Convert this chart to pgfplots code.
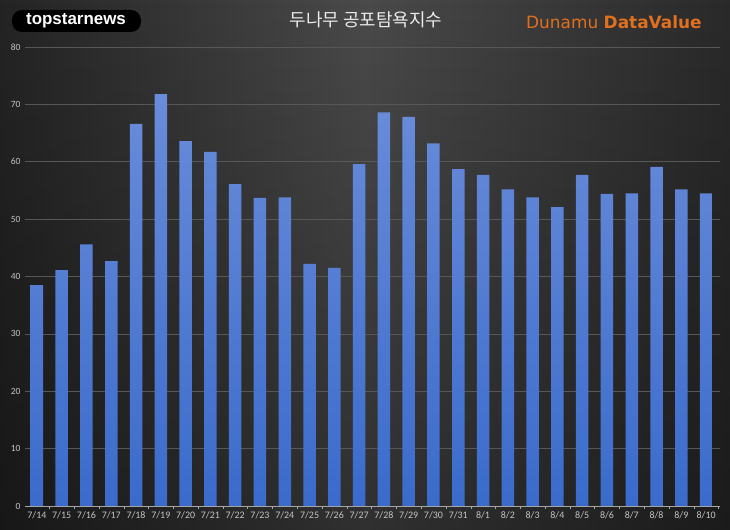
\documentclass[border=0pt]{standalone}
\usepackage{pgfplots}
\pgfplotsset{compat=1.18}
\usetikzlibrary{fadings}
\usepackage{fontspec}
\setmainfont{Carlito}
\newfontfamily\kr{Noto Sans CJK KR}
\newfontfamily\logo{Liberation Sans}
\newfontfamily\dnm{DejaVu Sans}
\definecolor{bgdark}{HTML}{242424}
\definecolor{bgmid}{HTML}{4A4A4A}
\definecolor{bartop}{HTML}{6A8CDA}
\definecolor{barbot}{HTML}{3A6BCB}
\definecolor{ticktxt}{HTML}{C4C4C4}
\definecolor{gridc}{HTML}{575757}
\definecolor{dorange}{HTML}{E0701E}
\begin{document}
\begin{tikzpicture}[x=1bp,y=1bp]
\path[use as bounding box] (0,0) rectangle (730,530);
\shade[left color=bgdark, right color=bgdark!85!bgmid, middle color=bgmid] (0,0) rectangle (730,530);
\fill[black, path fading=north, opacity=0.35] (0,0) rectangle (730,530);
\fill[black,rounded corners=10bp] (12,498) rectangle (141,520);
\node[text=white,font=\logo\bfseries\fontsize{17}{17}\selectfont,inner sep=0] at (76,509) {topstarnews};
\node[text=white!92!black,font=\kr\fontsize{18}{18}\selectfont,inner sep=0] at (366,510) {두나무 공포탐욕지수};
\node[text=dorange,font=\dnm\fontsize{17}{17}\selectfont,inner sep=0,anchor=west] at (526,508) {Dunamu \textbf{DataValue}};
\begin{axis}[
  at={(25bp,24bp)}, anchor=south west,
  scale only axis, width=695bp, height=459bp,
  ymin=0, ymax=80, ytick={0,10,...,80},
  xmin=0, xmax=1, hide x axis, axis y line*=left, y axis line style={draw=none},
  major tick length=0pt,
  ymajorgrids, grid style={draw=gridc, line width=0.7pt},
  ticklabel style={text=ticktxt, font=\fontsize{9.5}{10}\selectfont},
  yticklabel style={xshift=-1bp},
  /pgf/number format/assume math mode=true,
]
\addplot[draw=none] coordinates {(0,0)};
\end{axis}
\begin{axis}[
  at={(25bp,24bp)}, anchor=south west,
  scale only axis, width=695bp, height=459bp,
  ymin=0, ymax=80, ytick=\empty,
  xmin=-0.48, xmax=27.56,
  xtick={0,...,27},
  xticklabels={7/14,7/15,7/16,7/17,7/18,7/19,7/20,7/21,7/22,7/23,7/24,7/25,7/26,7/27,7/28,7/29,7/30,7/31,8/1,8/2,8/3,8/4,8/5,8/6,8/7,8/8,8/9,8/10},
  minor xtick={-0.5,0.5,...,27.5},
  major tick length=0pt, minor tick length=3bp,
  tick style={draw=gray!70},
  axis x line*=bottom, axis y line=none,
  x axis line style={draw=gray!70, -},
  ticklabel style={text=ticktxt, font=\fontsize{10}{10}\selectfont},
  xticklabel style={yshift=-2bp},
  /pgf/number format/assume math mode=true,
  ybar, bar width=12.5bp,
  clip=false,
]
\addplot[draw=none, top color=bartop, bottom color=barbot] coordinates {
(0,38.5) (1,41.1) (2,45.6) (3,42.7) (4,66.6) (5,71.8) (6,63.6) (7,61.7)
(8,56.1) (9,53.7) (10,53.8) (11,42.2) (12,41.5) (13,59.6) (14,68.6) (15,67.8)
(16,63.2) (17,58.7) (18,57.7) (19,55.2) (20,53.8) (21,52.1) (22,57.7) (23,54.4)
(24,54.5) (25,59.1) (26,55.2) (27,54.5)};
\end{axis}
\end{tikzpicture}
\end{document}
